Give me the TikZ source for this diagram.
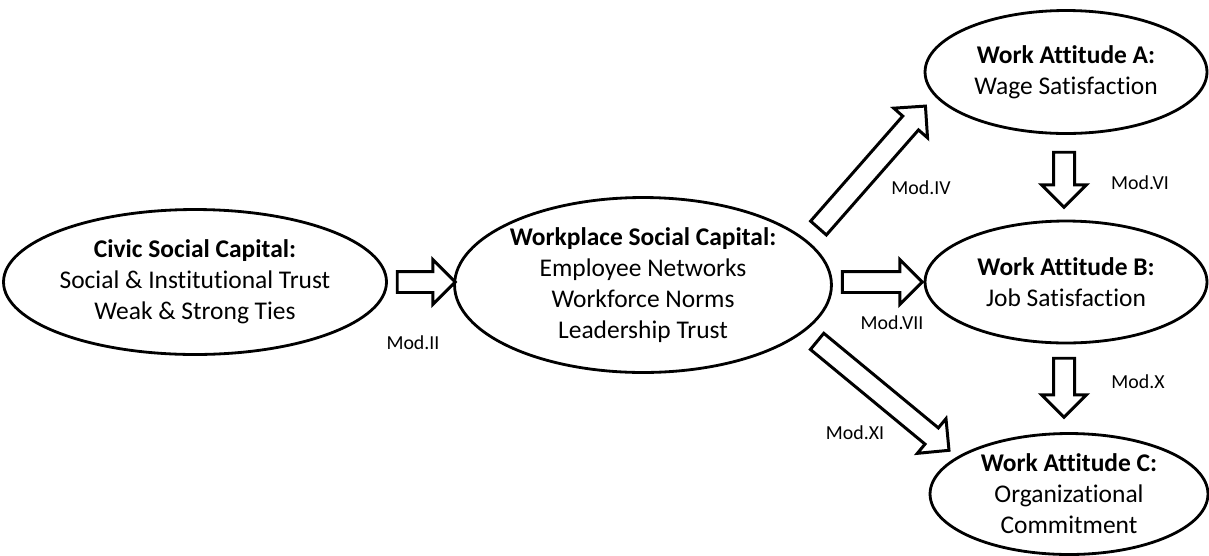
\documentclass[tikz,border=0pt]{standalone}
\usepackage{fontspec}
\setmainfont{Carlito}[Ligatures=NoCommon]
\usetikzlibrary{shapes.geometric,shapes.arrows,calc}
\tikzstyle{capital} = [ellipse, draw, line width=1.6pt, inner sep=0pt, align=center, font=\fontsize{14.5}{17.6}\selectfont]
\tikzstyle{modtext} = [font=\fontsize{11.3}{13}\selectfont]
\tikzset{bigarrow/.style = {
    single arrow, draw, fill=white, line width=1.7pt,
    inner xsep=0pt, inner ysep=0.18cm,
    single arrow head extend=0.24cm, single arrow tip angle=90
  }
}
\tikzset{fat/.style = {
    to path={let \p1=(\tikztostart), \p2=(\tikztotarget),
      \n1={atan2(\y2-\y1,\x2-\x1)}, \n2={veclen(\x2-\x1,\y2-\y1)} in
      ($(\p1)!0.5!(\p2)$) node[bigarrow, rotate=\n1, minimum height=\n2] {}}
  }
}

\begin{document}
\begin{tikzpicture}[x=0.02cm, y=-0.02cm]
            \useasboundingbox (0,0) rectangle (1209,555);
            % ellipses
            \node[capital, minimum width=7.32cm, minimum height=2.9cm] (civic) at (195,282) {\textbf{Civic Social Capital:}\\Social \& Institutional Trust\\Weak \& Strong Ties};
            \node[capital, minimum width=7.4cm, minimum height=3.5cm] (workplace) at (643,285) {\textbf{Workplace Social Capital:}\\Employee Networks\\Workforce Norms\\Leadership Trust};
            \node[capital, minimum width=5.64cm, minimum height=2.46cm] (attA) at (1066,72) {\textbf{Work Attitude A:}\\Wage Satisfaction};
            \node[capital, minimum width=5.64cm, minimum height=2.44cm] (attB) at (1066,282) {\textbf{Work Attitude B:}\\Job Satisfaction};
            \node[capital, minimum width=5.56cm, minimum height=2.42cm] (attC) at (1069,494) {\textbf{Work Attitude C:}\\Organizational\\Commitment};

            % arrow ends
            \coordinate (civicout) at (392,282);
            \coordinate (workin) at (450,282);
            \coordinate (upout) at (815,232);
            \coordinate (ain) at (922,110);
            \coordinate (aout) at (1064,147);
            \coordinate (bintop) at (1064,202);
            \coordinate (midout) at (837,282);
            \coordinate (bin) at (917,282);
            \coordinate (bout) at (1064,353);
            \coordinate (cintop) at (1064,412);
            \coordinate (downout) at (813,338);
            \coordinate (cin) at (945,447);

            % fat arrows
            \path (civicout) to[fat] (workin);
            \path (upout) to[fat] (ain);
            \path (aout) to[fat] (bintop);
            \path (midout) to[fat] (bin);
            \path (bout) to[fat] (cintop);
            \path (downout) to[fat] (cin);

            % labels
            \node[modtext] (modII) at (413,343) {Mod.II};
            \node[modtext] (modIV) at (921,188) {Mod.IV};
            \node[modtext] (modVI) at (1140,183) {Mod.VI};
            \node[modtext] (modVII) at (892,323) {Mod.VII};
            \node[modtext] (modX) at (1138,382) {Mod.X};
            \node[modtext] (modXI) at (855,433) {Mod.XI};
\end{tikzpicture}
\end{document}
